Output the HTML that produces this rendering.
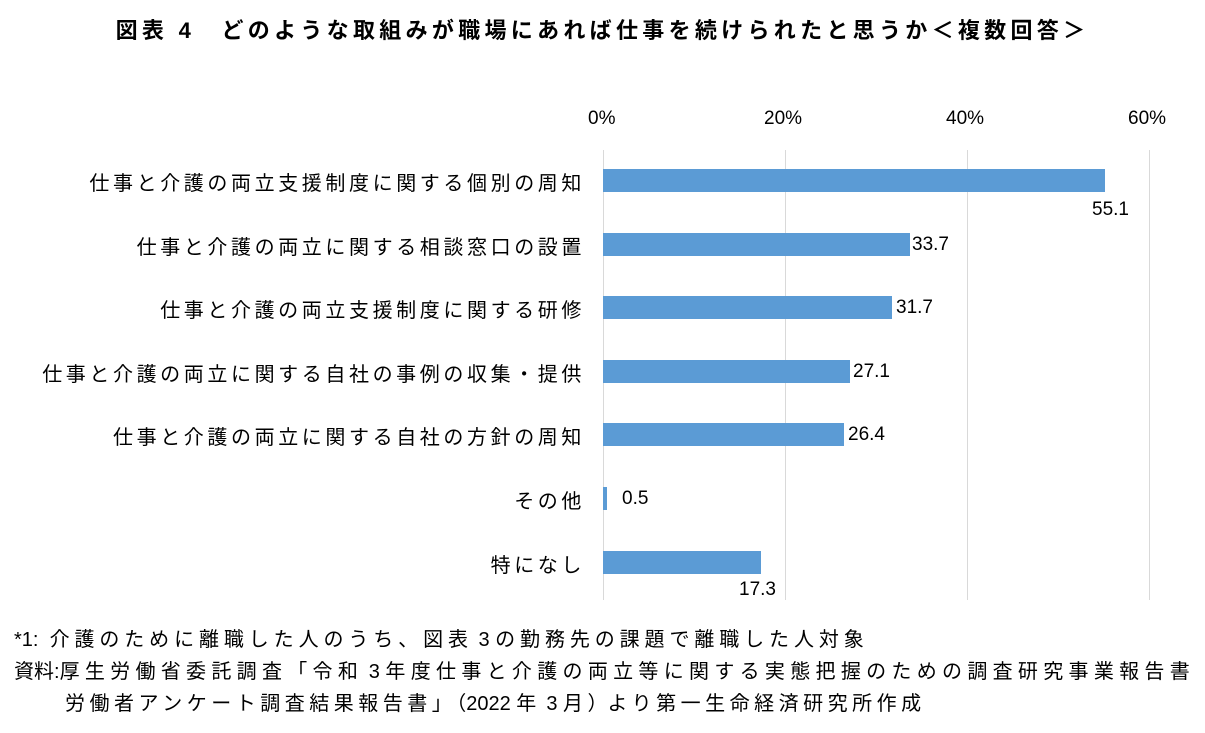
<!DOCTYPE html>
<html><head><meta charset="utf-8"><style>
body{margin:0;background:#fff;width:1205px;height:733px;overflow:hidden;position:relative;font-family:"Liberation Sans","Noto Sans CJK JP",sans-serif;color:#000}
.a{position:absolute;white-space:nowrap}
.lab{font-size:20px;text-align:right;right:620px;letter-spacing:3.6px}
.v{font-size:19px}
.bar{position:absolute;background:#5b9bd5;height:23px;left:603px}
.g{position:absolute;top:150px;height:450px;width:1px;background:#d9d9d9}
.t{font-size:19px}
.f{font-size:20px;letter-spacing:4.9px}
.n{letter-spacing:0}
</style></head><body>
<div class="a" style="left:0;width:1205px;text-align:center;top:13px;font-size:22px;font-weight:bold;letter-spacing:4.3px">図表 4　どのような取組みが職場にあれば仕事を続けられたと思うか＜複数回答＞</div>
<div class="a t" style="left:588px;top:108px">0%</div>
<div class="a t" style="left:764px;top:108px">20%</div>
<div class="a t" style="left:946px;top:108px">40%</div>
<div class="a t" style="left:1128px;top:108px">60%</div>
<div class="g" style="left:603px"></div><div class="g" style="left:785px"></div><div class="g" style="left:967px"></div><div class="g" style="left:1149px"></div>
<div class="a lab" style="top:167px">仕事と介護の両立支援制度に関する個別の周知</div>
<div class="a lab" style="top:231px">仕事と介護の両立に関する相談窓口の設置</div>
<div class="a lab" style="top:294px">仕事と介護の両立支援制度に関する研修</div>
<div class="a lab" style="top:358px">仕事と介護の両立に関する自社の事例の収集・提供</div>
<div class="a lab" style="top:421px">仕事と介護の両立に関する自社の方針の周知</div>
<div class="a lab" style="top:485px">その他</div>
<div class="a lab" style="top:549px">特になし</div>
<div class="bar" style="top:169px;width:502px"></div>
<div class="bar" style="top:233px;width:307px"></div>
<div class="bar" style="top:296px;width:289px"></div>
<div class="bar" style="top:360px;width:247px"></div>
<div class="bar" style="top:423px;width:241px"></div>
<div class="bar" style="top:487px;width:4px"></div>
<div class="bar" style="top:551px;width:158px"></div>
<div class="a v" style="left:1092px;top:199px">55.1</div>
<div class="a v" style="left:912px;top:234px">33.7</div>
<div class="a v" style="left:896px;top:297px">31.7</div>
<div class="a v" style="left:853px;top:361px">27.1</div>
<div class="a v" style="left:848px;top:424px">26.4</div>
<div class="a v" style="left:622px;top:488px">0.5</div>
<div class="a v" style="left:739px;top:579px">17.3</div>
<div class="a f" style="left:14px;top:623px"><span class="n">*1:&nbsp; </span>介護のために離職した人のうち、図表<span class="n"> 3 </span>の勤務先の課題で離職した人対象</div>
<div class="a f" style="left:14px;top:655px;letter-spacing:5.3px"><span class="n">資料:</span>厚生労働省委託調査「令和<span class="n"> 3 </span>年度仕事と介護の両立等に関する実態把握のための調査研究事業報告書</div>
<div class="a f" style="left:65px;top:687px;letter-spacing:4.5px">労働者アンケート調査結果報告書」<span class="n">（2022 </span>年<span class="n"> 3 </span>月<span class="n">）</span>より第一生命経済研究所作成</div>
</body></html>
